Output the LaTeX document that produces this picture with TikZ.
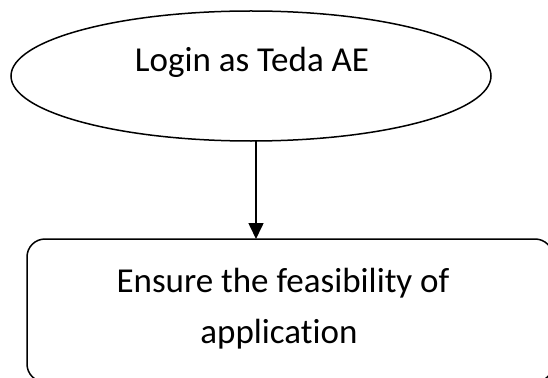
\documentclass[tikz,border=0pt]{standalone}
\usepackage{fontspec}
\setmainfont{Carlito}[Ligatures=NoCommon]
\usetikzlibrary{shapes.geometric,arrows.meta}
\begin{document}
\begin{tikzpicture}[x=1pt,y=-1pt,
  shapeline/.style={draw=black,line width=1.5pt},
  label/.style={font=\fontsize{35}{42}\selectfont,inner sep=0pt,anchor=base},
  flow/.style={draw=black,line width=1.6pt,-{Triangle[width=15pt,length=16pt]}}]
\useasboundingbox (0,0) rectangle (548,377);
\node[shapeline,ellipse,minimum width=480pt,minimum height=130pt,inner sep=0pt] (login) at (251,76) {};
\node[label] (logintext) at (252,72) {Login as Teda AE};
\draw[shapeline,rounded corners=18pt] (27,239) rectangle (553,382);
\coordinate (boxtop) at (256,239);
\coordinate (ellbot) at (256,141);
\node[label] (ensure1) at (283,292) {Ensure the feasibility of};
\node[label] (ensure2) at (279,343) {application};
\draw[flow] (ellbot) -- (boxtop);
\end{tikzpicture}
\end{document}
